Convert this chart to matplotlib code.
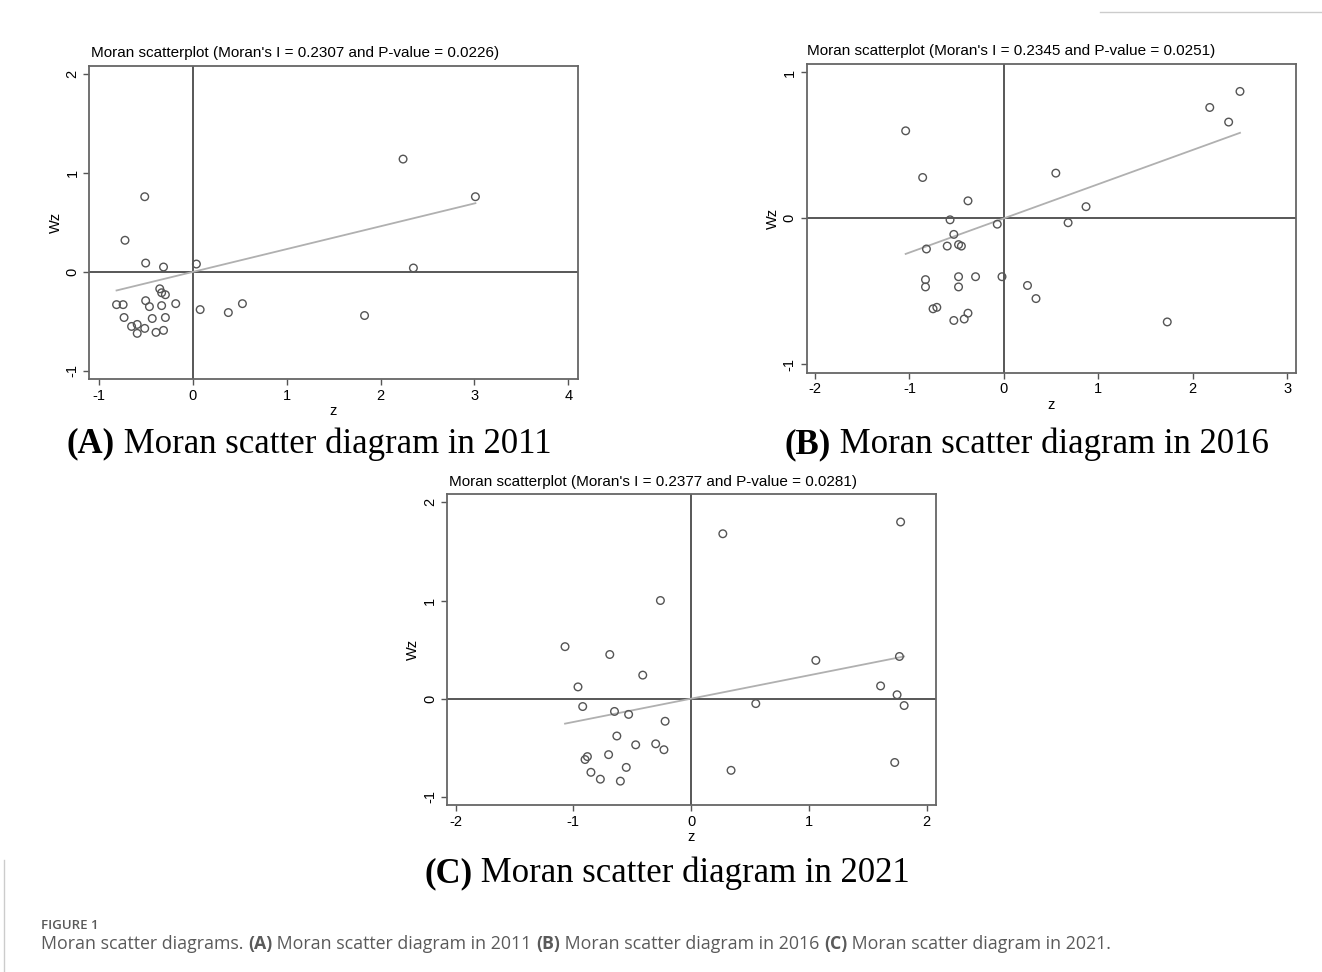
#!/usr/bin/env python3

import numpy as np
import matplotlib
matplotlib.use("Agg")
import matplotlib.pyplot as plt

plt.rcParams["axes.unicode_minus"] = False

W, H = 1322, 972

# --- data ---
years = [2011, 2016, 2021]
panel_letters = ["A", "B", "C"]
morans_i = [0.2307, 0.2345, 0.2377]
p_values = [0.0226, 0.0251, 0.0281]

z_2011 = [2.24, 3.01, -0.51, -0.72, -0.50, -0.31, 0.04, 2.35, -0.35, -0.33,
          -0.29, -0.81, -0.74, -0.50, -0.46, -0.33, -0.18, 0.08, 0.38, 0.53,
          1.83, -0.73, -0.43, -0.29, -0.65, -0.59, -0.59, -0.51, -0.39, -0.31]
wz_2011 = [1.14, 0.76, 0.76, 0.32, 0.09, 0.05, 0.08, 0.04, -0.17, -0.21,
           -0.23, -0.33, -0.33, -0.29, -0.35, -0.34, -0.32, -0.38, -0.41, -0.32,
           -0.44, -0.46, -0.47, -0.46, -0.55, -0.53, -0.62, -0.57, -0.61, -0.59]

z_2016 = [2.50, 2.18, 2.38, -1.04, -0.86, 0.55, -0.38, 0.87, -0.57, -0.07,
          0.68, -0.53, -0.82, -0.60, -0.48, -0.45, -0.83, -0.83, -0.48, -0.30,
          -0.02, -0.48, 0.25, 0.34, -0.75, -0.71, -0.38, -0.42, -0.53, 1.73]
wz_2016 = [0.87, 0.76, 0.66, 0.60, 0.28, 0.31, 0.12, 0.08, -0.01, -0.04,
           -0.03, -0.11, -0.21, -0.19, -0.18, -0.19, -0.42, -0.47, -0.40, -0.40,
           -0.40, -0.47, -0.46, -0.55, -0.62, -0.61, -0.65, -0.69, -0.70, -0.71]

z_2021 = [1.78, 0.27, -0.26, -1.07, -0.69, -0.41, 1.06, 1.77, -0.96, 1.61,
          1.75, -0.92, 0.55, 1.81, -0.65, -0.53, -0.22, -0.63, -0.47, -0.30,
          -0.23, -0.88, -0.90, -0.70, -0.55, -0.85, -0.77, -0.60, 0.34, 1.73]
wz_2021 = [1.80, 1.68, 1.00, 0.53, 0.45, 0.24, 0.39, 0.43, 0.12, 0.13,
           0.04, -0.08, -0.05, -0.07, -0.13, -0.16, -0.23, -0.38, -0.47, -0.46,
           -0.52, -0.59, -0.62, -0.57, -0.70, -0.75, -0.82, -0.84, -0.73, -0.65]

z_values = [z_2011, z_2016, z_2021]
wz_values = [wz_2011, wz_2016, wz_2021]

x_ticks = [[-1, 0, 1, 2, 3, 4], [-2, -1, 0, 1, 2, 3], [-2, -1, 0, 1, 2]]
y_ticks = [[-1, 0, 1, 2], [-1, 0, 1], [-1, 0, 1, 2]]

# --- layout (pixels) ---
boxes = [(89.3, 66, 577.8, 379.3), (806.5, 64, 1295.7, 372.7), (446.7, 494, 935.7, 805)]
xlims = [(-1.10, 4.10), (-2.09, 3.09), (-2.075, 2.078)]
ylims = [(-1.084, 2.08), (-1.058, 1.058), (-1.083, 2.085)]
title_pos = [(91, 53), (807, 51.5), (449, 481.5)]
caption_pos = [(67, 452.7), (785, 453), (424, 882)]

SANS = "Liberation Sans"
SERIF = "Liberation Serif"


def px_rect(l, t, r, b):
    return [l / W, 1 - b / H, (r - l) / W, (b - t) / H]


def draw_runs(fig, x, y, runs, **kw):
    """Write pieces of text one after another, each with its own weight."""
    renderer = fig.canvas.get_renderer()
    for text, weight in runs:
        t = fig.text(x / W, 1 - y / H, text, fontweight=weight,
                     ha="left", va="baseline", **kw)
        bb = t.get_window_extent(renderer)
        x = bb.x1


def moran_panel(fig, k):
    ax = fig.add_axes(px_rect(*boxes[k]))
    z = np.array(z_values[k])
    wz = np.array(wz_values[k])

    ax.axhline(0, color="#4a4a4a", lw=1.3, zorder=1)
    ax.axvline(0, color="#4a4a4a", lw=1.3, zorder=1)
    zz = np.array([z.min(), z.max()])
    ax.plot(zz, morans_i[k] * zz, color="#b0b0b0", lw=1.3, zorder=2)
    ax.scatter(z, wz, s=30, facecolors="none", edgecolors="#555555",
               linewidths=1.0, zorder=3)

    ax.set_xlim(*xlims[k])
    ax.set_ylim(*ylims[k])
    ax.set_xticks(x_ticks[k])
    ax.set_yticks(y_ticks[k])
    ax.tick_params(direction="out", length=4.5, width=1, color="#555555",
                   labelsize=10.5, pad=2.5)
    for lab in ax.get_yticklabels():
        lab.set_rotation(90)
        lab.set_va("center")
    for lab in ax.get_xticklabels() + ax.get_yticklabels():
        lab.set_fontfamily(SANS)
    for s in ax.spines.values():
        s.set_color("#666666")
        s.set_linewidth(1.3)

    ax.set_xlabel("z", fontfamily=SANS, fontsize=10.5, labelpad=1)
    ax.set_ylabel("Wz", fontfamily=SANS, fontsize=10.5, labelpad=2)

    tx, ty = title_pos[k]
    fig.text(tx / W, 1 - ty / H,
             "Moran scatterplot (Moran's I = %.4f and P-value = %.4f)"
             % (morans_i[k], p_values[k]),
             fontfamily=SANS, fontsize=11, ha="left", va="center")

    cx, cy = caption_pos[k]
    draw_runs(fig, cx, cy,
              [("(%s)" % panel_letters[k], "bold"),
               (" Moran scatter diagram in %d" % years[k], "normal")],
              fontfamily=SERIF, fontsize=25, color="black")
    return ax


def main():
    fig = plt.figure(figsize=(W / 100, H / 100), dpi=100)
    fig.patch.set_facecolor("white")

    for k in range(3):
        moran_panel(fig, k)

    # figure caption block
    grey = "#5a5a5a"
    fig.text(41 / W, 1 - 928.5 / H, "FIGURE 1", fontfamily="Open Sans",
             fontsize=9.5, fontweight="semibold", color=grey,
             ha="left", va="baseline")
    runs = [("Moran scatter diagrams. ", "normal")]
    for k in range(3):
        runs.append(("(%s)" % panel_letters[k], "bold"))
        end = " " if k < 2 else "."
        runs.append((" Moran scatter diagram in %d%s" % (years[k], end), "normal"))
    draw_runs(fig, 41, 949, runs, fontfamily="Open Sans", fontsize=12.8,
              color=grey)

    # thin page borders
    fig.add_artist(plt.Line2D([4 / W, 4 / W], [0, 1 - 860 / H],
                              color="#cccccc", lw=1))
    fig.add_artist(plt.Line2D([1100 / W, 1], [1 - 12 / H, 1 - 12 / H],
                              color="#cccccc", lw=1))

    fig.savefig("out.png", dpi=100, facecolor="white")


if __name__ == "__main__":
    main()
